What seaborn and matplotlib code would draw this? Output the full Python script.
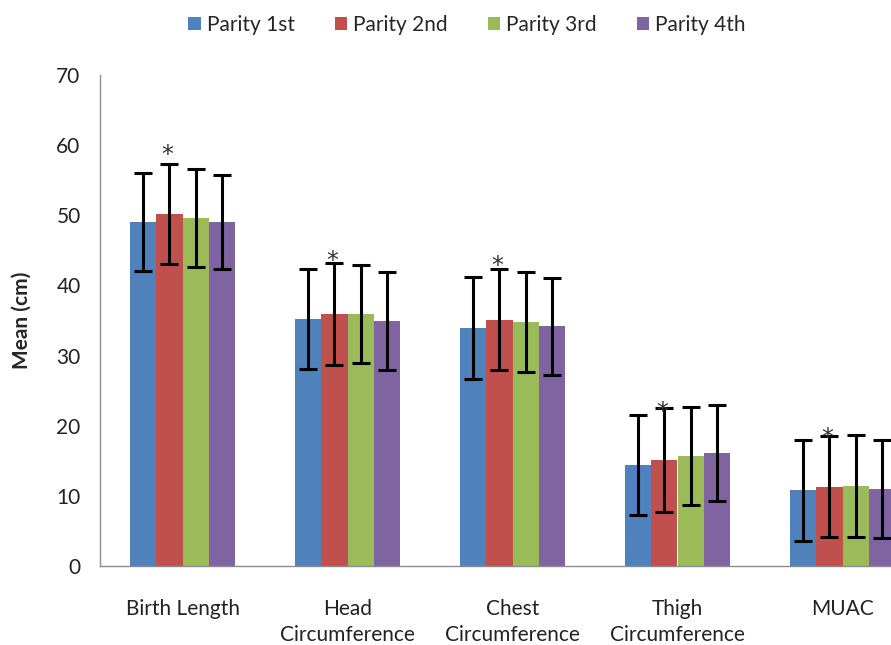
import numpy as np
import pandas as pd
import matplotlib
matplotlib.use("Agg")
import matplotlib.pyplot as plt
import seaborn as sns

categories = ["Birth Length", "Head\nCircumference", "Chest\nCircumference",
              "Thigh\nCircumference", "MUAC"]
parity = ["Parity 1st", "Parity 2nd", "Parity 3rd", "Parity 4th"]

mean_1st = [49.0, 35.2, 33.9, 14.4, 10.8]
mean_2nd = [50.2, 35.9, 35.1, 15.1, 11.3]
mean_3rd = [49.6, 35.9, 34.8, 15.7, 11.4]
mean_4th = [49.0, 34.9, 34.2, 16.1, 11.0]

sd_1st = [7.0, 7.1, 7.3, 7.1, 7.2]
sd_2nd = [7.1, 7.3, 7.2, 7.4, 7.2]
sd_3rd = [7.0, 7.0, 7.1, 7.0, 7.3]
sd_4th = [6.7, 7.0, 6.9, 6.9, 7.0]

# significance stars (over Parity 2nd)
star_series = "Parity 2nd"
star_y = [58.6, 43.5, 42.8, 21.9, 18.2]

colors = ["#4F81BD", "#C0504D", "#9BBB59", "#8064A2"]

means = [mean_1st, mean_2nd, mean_3rd, mean_4th]
sds = [sd_1st, sd_2nd, sd_3rd, sd_4th]

rows = []
for p, m, s in zip(parity, means, sds):
    for c, mv, sv in zip(categories, m, s):
        rows.append({"Category": c, "Parity": p, "Mean": mv, "SD": sv})
df = pd.DataFrame(rows)

sns.set_style("white")
plt.rcParams["font.family"] = ["Lato", "DejaVu Sans"]

fig = plt.figure(figsize=(8.91, 6.45), dpi=100)
ax = fig.add_axes([100 / 891, 79 / 645, 825 / 891, 491 / 645])

sns.barplot(data=df, x="Category", y="Mean", hue="Parity", order=categories,
            hue_order=parity, palette=colors, width=0.64, gap=0,
            errorbar=None, saturation=1, linewidth=0, edgecolor="none",
            ax=ax, legend=True)

for i, p in enumerate(parity):
    cont = ax.containers[i]
    sub = df[df["Parity"] == p].set_index("Category").loc[categories]
    xs = [b.get_x() + b.get_width() / 2 for b in cont]
    ax.errorbar(xs, sub["Mean"], yerr=sub["SD"], fmt="none", ecolor="black",
                elinewidth=2.2, capsize=6.5, capthick=2.2, zorder=5)
    if p == star_series:
        for x, sy in zip(xs, star_y):
            ax.text(x - 0.01, sy, "*", ha="center", va="center",
                    fontsize=17, color="#333333", family="DejaVu Sans", zorder=6)

ax.set_ylim(0, 70)
ax.set_xlim(-0.5, 4.5)
ax.set_yticks(range(0, 71, 10))
ax.set_xlabel("")
ax.set_ylabel("Mean (cm)", fontsize=15, fontweight="bold", labelpad=18)
ax.tick_params(axis="y", labelsize=15, colors="#222222", length=0, pad=14)
ax.tick_params(axis="x", labelsize=15, colors="#222222", length=0, pad=24)
for lab in ax.get_xticklabels():
    lab.set_linespacing(1.35)

for side in ["top", "right"]:
    ax.spines[side].set_visible(False)
for side in ["left", "bottom"]:
    ax.spines[side].set_color("#8c8c8c")
    ax.spines[side].set_linewidth(1)

handles, labels = ax.get_legend_handles_labels()
ax.legend(handles, labels, loc="upper center", bbox_to_anchor=(0.445, 1.16),
          ncol=4, frameon=False, fontsize=15, handlelength=0.6, handleheight=0.6,
          handletextpad=0.3, columnspacing=1.9)

fig.savefig("out.png", dpi=100)
